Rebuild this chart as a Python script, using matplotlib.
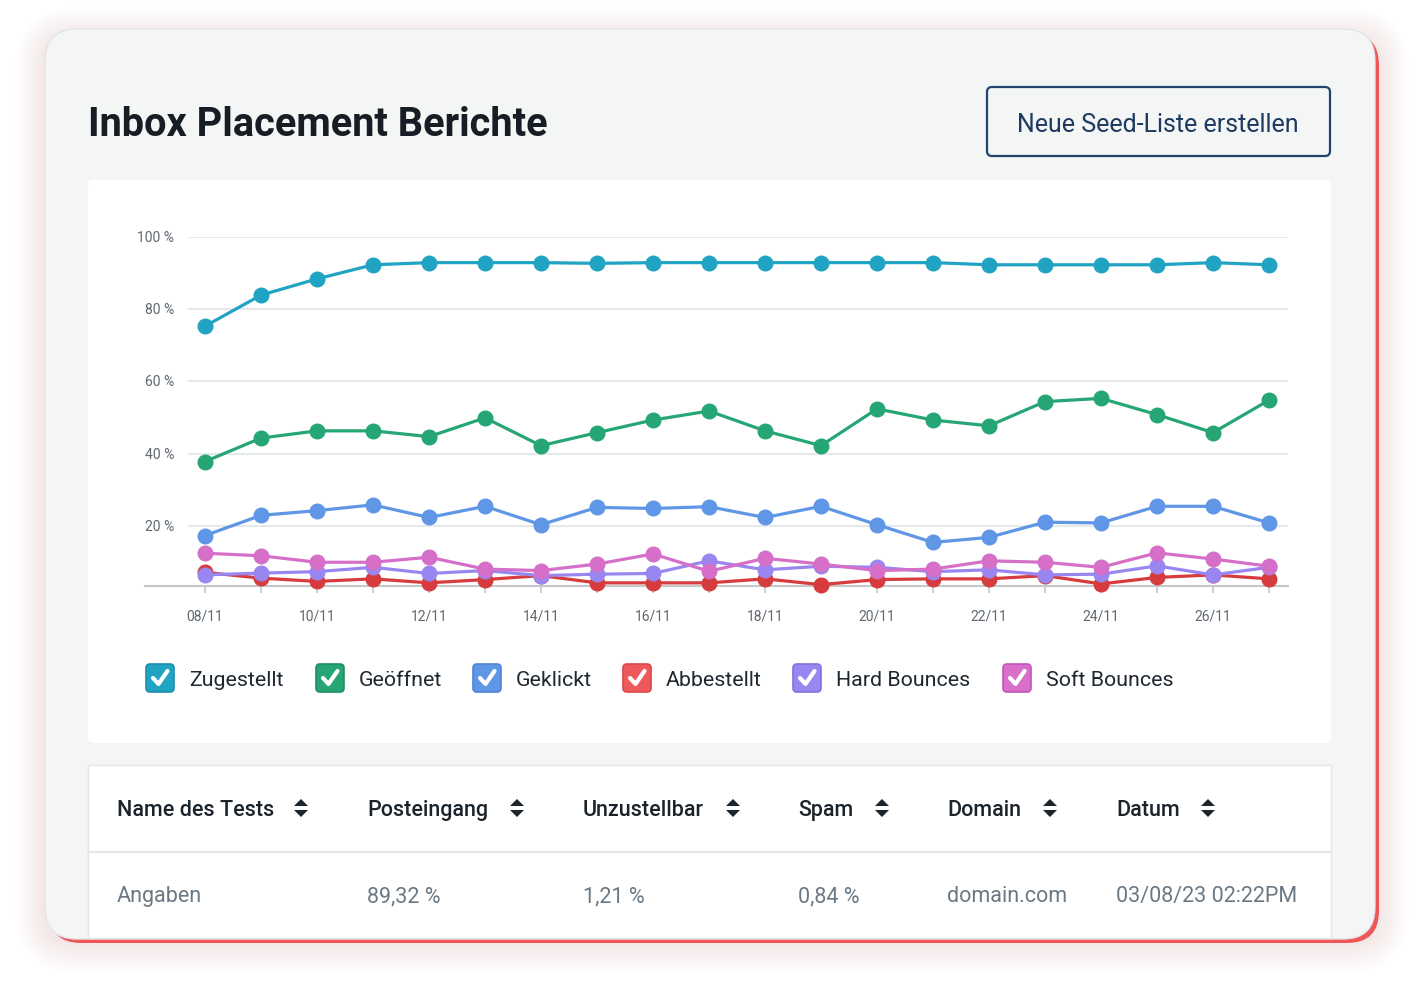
import matplotlib
matplotlib.use("Agg")
import matplotlib.pyplot as plt
from matplotlib.patches import FancyBboxPatch, Rectangle, Polygon

plt.rcParams['font.family'] = ['Roboto', 'DejaVu Sans']

# data (percent)
dates = ["08/11", "09/11", "10/11", "11/11", "12/11", "13/11", "14/11", "15/11", "16/11", "17/11",
         "18/11", "19/11", "20/11", "21/11", "22/11", "23/11", "24/11", "25/11", "26/11", "27/11"]
zugestellt = [75.3, 83.9, 88.4, 92.3, 92.9, 92.9, 92.9, 92.7, 92.9, 92.9,
              92.9, 92.9, 92.9, 92.9, 92.3, 92.3, 92.3, 92.3, 92.9, 92.3]
geoeffnet = [37.8, 44.3, 46.3, 46.3, 44.7, 49.9, 42.2, 45.8, 49.3, 51.8,
             46.3, 42.2, 52.4, 49.3, 47.7, 54.4, 55.3, 50.8, 45.8, 54.8]
geklickt = [17.3, 22.9, 24.2, 25.8, 22.3, 25.4, 20.3, 25.1, 24.8, 25.3,
            22.3, 25.4, 20.3, 15.4, 16.8, 21.0, 20.8, 25.4, 25.4, 20.8]
abbestellt = [7.1, 5.5, 4.6, 5.3, 4.2, 5.1, 6.2, 4.2, 4.2, 4.2,
              5.3, 3.7, 5.1, 5.3, 5.3, 6.2, 3.9, 5.7, 6.4, 5.3]
hard_bounces = [6.4, 6.9, 7.3, 8.5, 6.8, 7.6, 6.2, 6.6, 6.8, 10.3,
                7.8, 8.8, 8.5, 7.3, 7.8, 6.4, 6.6, 8.9, 6.4, 8.5]
soft_bounces = [12.4, 11.7, 9.9, 9.9, 11.3, 8.0, 7.6, 9.4, 12.2, 7.4,
                11.0, 9.4, 7.6, 8.0, 10.3, 9.9, 8.5, 12.5, 10.8, 8.8]

series_names = ["Zugestellt", "Geöffnet", "Geklickt", "Abbestellt", "Hard Bounces", "Soft Bounces"]
series_values = [zugestellt, geoeffnet, geklickt, abbestellt, hard_bounces, soft_bounces]
series_colors = ["#21a3c3", "#25a674", "#5f96e6", "#d63b3e", "#9a86f0", "#d56fc8"]
box_edges = ["#1c8fad", "#1e9064", "#4f84d4", "#d84848", "#8570dd", "#c254b6"]
box_fills = ["#21a3c3", "#25a674", "#5f96e6", "#ee5a5c", "#9a86f0", "#d870c9"]

y_ticks = [20, 40, 60, 80, 100]

table_headers = ["Name des Tests", "Posteingang", "Unzustellbar", "Spam", "Domain", "Datum"]
table_row = ["Angaben", "89,32 %", "1,21 %", "0,84 %", "domain.com", "03/08/23 02:22PM"]

W, H = 1424, 1003
fig = plt.figure(figsize=(W / 100, H / 100), dpi=100)
fig.patch.set_facecolor("white")

# background axes in pixel coordinates (y down)
bg = fig.add_axes([0, 0, 1, 1])
bg.set_xlim(0, W)
bg.set_ylim(H, 0)
bg.axis("off")


def rbox(x0, y0, x1, y1, r, **kw):
    p = FancyBboxPatch((x0 + r, y0 + r), (x1 - x0) - 2 * r, (y1 - y0) - 2 * r,
                       boxstyle="round,pad=%s" % r, **kw)
    bg.add_patch(p)
    return p


# soft pink glow
for i in range(12):
    g = 2 + i * 2.5
    rbox(45 - g, 30 - g + 8, 1379 + g, 944 + g, 32 + g, facecolor="#f3a8a8",
         edgecolor="none", alpha=0.014, zorder=1)

# red offset edge + card
rbox(49, 34, 1379, 944, 32, facecolor="#ee5658", edgecolor="none", zorder=2)
rbox(45, 30, 1375, 940, 32, facecolor="#f4f5f5", edgecolor="#e2e5e7", lw=1.0, zorder=3)

# title + button
bg.text(88, 125, "Inbox Placement Berichte", fontsize=28.6, fontweight="bold",
        color="#161d24", va="center", ha="left", zorder=5)
rbox(987, 88, 1330, 157, 5, facecolor="none", edgecolor="#23446a", lw=1.6, zorder=5)
bg.text(1158, 125, "Neue Seed-Liste erstellen", fontsize=18, color="#1d3a5f",
        va="center", ha="center", zorder=5)

# white chart panel
rbox(88, 181, 1331, 744, 5, facecolor="white", edgecolor="none", zorder=4)

# table panel (clipped by card bottom)
bg.add_patch(Rectangle((88, 766), 1331 - 88, 939 - 766, facecolor="white",
                       edgecolor="#e3e6e8", lw=1.0, zorder=4))
bg.plot([88, 1331], [853, 853], color="#e4e7ea", lw=1.5, zorder=5)

col_x = [117, 367, 583, 798, 947, 1116]
icon_x = [301, 517, 733, 882, 1050, 1208]
for x, hx, label in zip(col_x, icon_x, table_headers):
    bg.text(x, 811, label, fontsize=15.5, fontweight="medium", color="#1b232b",
            va="center", ha="left", zorder=6)
    bg.add_patch(Polygon([[hx - 7, 807], [hx + 7, 807], [hx, 800]], closed=True,
                         facecolor="#1b232b", edgecolor="none", zorder=6))
    bg.add_patch(Polygon([[hx - 7, 811], [hx + 7, 811], [hx, 818]], closed=True,
                         facecolor="#1b232b", edgecolor="none", zorder=6))
for x, val in zip(col_x, table_row):
    bg.text(x, 897, val, fontsize=15.5, color="#6b7883", va="center", ha="left", zorder=6)

# legend with checkboxes
legend_box_x = [146, 316, 473, 623, 793, 1003]
for bx, name, fc, ec in zip(legend_box_x, series_names, box_fills, box_edges):
    rbox(bx, 665, bx + 28, 693, 4, facecolor=fc, edgecolor=ec, lw=1.2, zorder=6)
    bg.plot([bx + 7, bx + 12.5, bx + 21.5], [679, 685, 672], color="white", lw=3,
            solid_capstyle="round", solid_joinstyle="round", zorder=7)
    bg.text(bx + 43, 681, name, fontsize=15.4, color="#1f2831", va="center", ha="left", zorder=6)

# chart axes: 0 % at y=599 px, 100 % at y=238 px, 1 day = 56 px, first day at x=205 px
px_per_pct = (599 - 238) / 100.0
ax_left, ax_right, ax_top, ax_bottom = 145, 1288, 238, 587
ax = fig.add_axes([ax_left / W, 1 - ax_bottom / H, (ax_right - ax_left) / W, (ax_bottom - ax_top) / H])
ax.set_zorder(10)
ax.patch.set_alpha(0)
ax.set_xlim((ax_left - 205) / 56.0, (ax_right - 205) / 56.0)
ax.set_ylim((599 - ax_bottom) / px_per_pct, 100)

xs = list(range(len(dates)))
gx0 = (188 - 205) / 56.0
ax.hlines(y_ticks, gx0, ax.get_xlim()[1], color="#e5e9eb", lw=1.5, zorder=1)
for v in y_ticks:
    ax.text((174 - 205) / 56.0, v, "%d %%" % v, fontsize=10, color="#5e6871",
            ha="right", va="center")

for vals, col in zip(series_values, series_colors):
    ax.plot(xs, vals, color=col, lw=2.3, marker="o", markersize=10.5, clip_on=False, zorder=3)

for s in ["top", "right", "left"]:
    ax.spines[s].set_visible(False)
ax.spines["bottom"].set_color("#c3c8cc")
ax.spines["bottom"].set_linewidth(1.5)
ax.set_yticks([])
ax.set_xticks(xs)
ax.set_xticklabels([d if i % 2 == 0 else "" for i, d in enumerate(dates)])
ax.tick_params(axis="x", length=5, width=1.2, color="#c3c8cc", labelsize=10,
               labelcolor="#5e6871", pad=11)

fig.savefig("out.png", dpi=100, facecolor="white")
